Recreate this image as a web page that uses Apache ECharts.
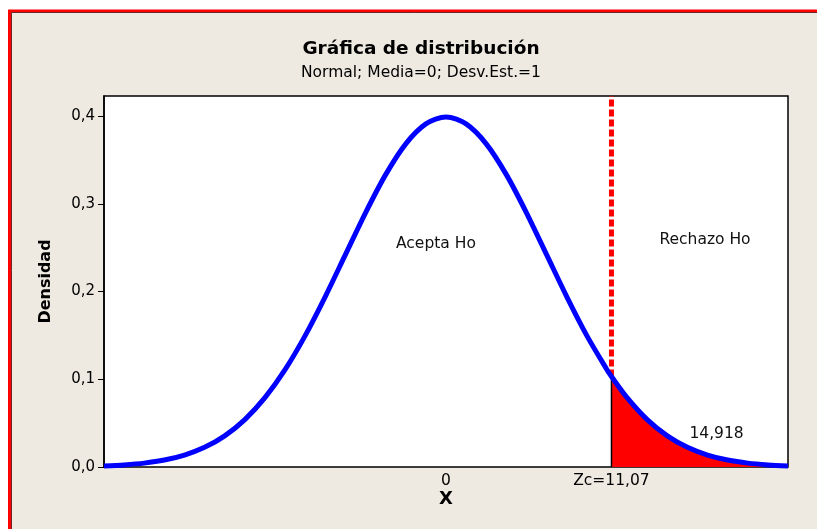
<!DOCTYPE html>
<html>
<head>
<meta charset="utf-8">
<script src="https://cdn.jsdelivr.net/npm/echarts@6/dist/echarts.min.js"></script>
<style>html,body{margin:0;padding:0;background:#fff}#c{width:817px;height:529px}</style>
</head>
<body>
<div id="c"></div>
<script>
// Density curve (Normal; Media=0; Desv.Est.=1)
var curveX = [-3.4,-3.2,-3.0,-2.8,-2.6,-2.4,-2.2,-2.0,-1.8,-1.6,-1.4,-1.2,-1.0,-0.8,-0.6,-0.4,-0.2,0,0.2,0.4,0.6,0.8,1.0,1.2,1.4,1.6,1.645,1.8,2.0,2.2,2.4,2.6,2.8,3.0,3.2,3.4];
var curveY = [0.0012,0.0024,0.0044,0.0079,0.0136,0.0224,0.0355,0.0540,0.0790,0.1109,0.1497,0.1942,0.2420,0.2897,0.3332,0.3683,0.3910,0.3989,0.3910,0.3683,0.3332,0.2897,0.2420,0.1942,0.1497,0.1109,0.1031,0.0790,0.0540,0.0355,0.0224,0.0136,0.0079,0.0044,0.0024,0.0012];
// Rejection tail
var tailX = [1.645,1.8,2.0,2.2,2.4,2.6,2.8,3.0,3.2,3.4];
var tailY = [0.1031,0.0790,0.0540,0.0355,0.0224,0.0136,0.0079,0.0044,0.0024,0.0012];
var zc = 1.645;
var zcDensity = 0.1031;
var xTickValues = [0, 1.645];
var xTickLabels = ['0', 'Zc=11,07'];
var yTickValues = [0, 0.1, 0.2, 0.3, 0.4];
var yTickLabels = ['0,0', '0,1', '0,2', '0,3', '0,4'];
var annotText = ['Acepta Ho', 'Rechazo Ho', '14,918'];
var annotX = [-0.1, 2.575, 2.69];
var annotY = [0.254, 0.2587, 0.0376];
var xMin = -3.4, xMax = 3.4, yMin = 0, yMax = 0.4228;

var FONT = '"DejaVu Sans",sans-serif';
function pairs(xs, ys){ return xs.map(function(x,i){ return [x, ys[i]]; }); }

var chart = echarts.init(document.getElementById('c'), null, {renderer:'canvas'});
chart.setOption({
  backgroundColor: '#EEEAE1',
  animation: false,
  title: {
    text: 'Gráfica de distribución',
    subtext: 'Normal; Media=0; Desv.Est.=1',
    left: 416, textAlign: 'center', top: 35, itemGap: 6,
    textStyle: {fontFamily: FONT, fontWeight: 'bold', fontSize: 18.5, color: '#000'},
    subtextStyle: {fontFamily: FONT, fontSize: 15.5, color: '#000'}
  },
  grid: {left: 104, right: 29, top: 96, bottom: 62, show: true, backgroundColor: '#fff', borderColor: '#000', borderWidth: 1.5},
  xAxis: {
    type: 'value', min: xMin, max: xMax,
    name: 'X', nameLocation: 'middle', nameGap: 23, nameMoveOverlap: false,
    nameTextStyle: {fontFamily: FONT, fontWeight: 'bold', fontSize: 18, color: '#000'},
    axisLine: {show: false, onZero: false}, splitLine: {show: false},
    axisTick: {show: false},
    axisLabel: {customValues: xTickValues, margin: 6, fontFamily: FONT, fontSize: 15.5, color: '#000',
      formatter: function(v){ var i = xTickValues.indexOf(v); return i >= 0 ? xTickLabels[i] : ''; }}
  },
  yAxis: {
    type: 'value', min: yMin, max: yMax,
    name: 'Densidad', nameLocation: 'middle', nameGap: 50, nameMoveOverlap: false,
    nameTextStyle: {fontFamily: FONT, fontWeight: 'bold', fontSize: 16, color: '#000'},
    axisLine: {show: true, onZero: false, lineStyle: {color: '#000', width: 1.5}}, splitLine: {show: false},
    axisTick: {show: true, customValues: yTickValues, length: 6, lineStyle: {color: '#000', width: 1}},
    axisLabel: {customValues: yTickValues, margin: 9, fontFamily: FONT, fontSize: 15, color: '#000',
      formatter: function(v){ var i = yTickValues.indexOf(v); return i >= 0 ? yTickLabels[i] : ''; }}
  },
  graphic: [
    {type: 'rect', shape: {x: 0, y: 0, width: 817, height: 10}, style: {fill: '#fff'}, silent: true},
    {type: 'rect', shape: {x: 0, y: 0, width: 8, height: 529}, style: {fill: '#fff'}, silent: true},
    {type: 'polyline', shape: {points: [[9.5, 529], [9.5, 11], [817, 11]]}, style: {stroke: '#FF0000', lineWidth: 3, fill: null}, silent: true},
    {type: 'polyline', shape: {points: [[11.5, 529], [11.5, 12.5], [817, 12.5]]}, style: {stroke: '#6b2a2a', lineWidth: 1, fill: null}, silent: true}
  ],
  series: [
    {type: 'line', data: pairs(tailX, tailY), smooth: 0.3, symbol: 'none', lineStyle: {width: 0},
      areaStyle: {color: '#FF0000', opacity: 1}, z: 2},
    {type: 'line', data: [[zc, 0], [zc, zcDensity]], symbol: 'none', lineStyle: {color: '#000', width: 1.5}, z: 3},
    {type: 'line', data: [[zc, zcDensity], [zc, yMax]], symbol: 'none', lineStyle: {color: '#FF0000', width: 5, type: [7, 3]}, z: 3},
    {type: 'line', data: pairs(curveX, curveY), smooth: 0.3, symbol: 'none', lineStyle: {color: '#0000FF', width: 5}, z: 5},
    {type: 'scatter', data: annotX.map(function(x,i){ return {value: [x, annotY[i]], name: annotText[i]}; }),
      symbolSize: 0, z: 6, silent: true, itemStyle: {opacity: 1},
      label: {show: true, position: 'inside', formatter: '{b}', fontFamily: FONT, fontSize: 15.5, color: '#111', opacity: 1}}
  ]
});
</script>
</body>
</html>
